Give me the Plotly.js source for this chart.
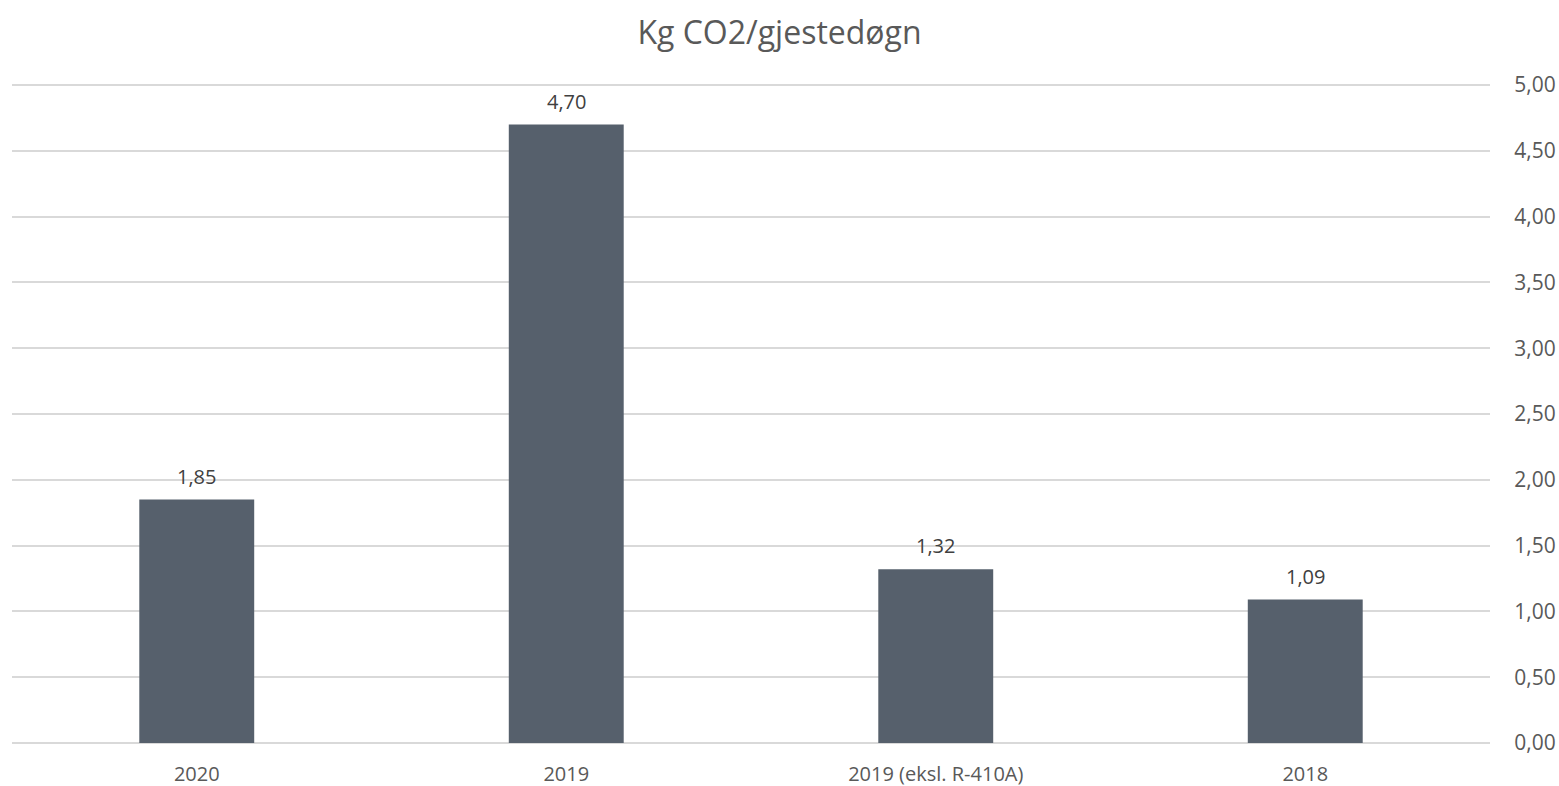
<!DOCTYPE html>
<html>
<head>
<meta charset="utf-8">
<script src="https://cdn.plot.ly/plotly-3.0.1.min.js"></script>
<style>html,body{margin:0;padding:0;background:#fff;}#chart{width:1559px;height:786px;}</style>
</head>
<body>
<div id="chart"></div>
<script>
const categories = ["2020", "2019", "2019 (eksl. R-410A)", "2018"];
const values = [1.85, 4.70, 1.32, 1.09];
const tickValues = [0, 0.5, 1, 1.5, 2, 2.5, 3, 3.5, 4, 4.5, 5];
const tickLabels = ["0,00", "0,50", "1,00", "1,50", "2,00", "2,50", "3,00", "3,50", "4,00", "4,50", "5,00"];
const valueLabels = values.map(v => v.toFixed(2).replace(".", ","));

const font = "Open Sans, sans-serif";
const trace = {
  type: "bar",
  x: categories,
  y: values,
  marker: {color: "#56606C"},
  hoverinfo: "skip"
};
const annotations = categories.map((c, i) => ({
  x: i, y: values[i], xref: "x", yref: "y",
  text: valueLabels[i], showarrow: false,
  yanchor: "bottom", yshift: 8,
  font: {family: font, size: 20, color: "#404040"}
}));
const layout = {
  width: 1559, height: 786,
  margin: {l: 12, r: 69, t: 84, b: 43},
  paper_bgcolor: "#fff", plot_bgcolor: "#fff",
  bargap: 0.689,
  showlegend: false,
  annotations: annotations,
  title: {text: "Kg CO2/gjestedøgn", font: {family: font, size: 32, color: "#595959"}, x: 0.5, xanchor: "center", y: 0.958, yanchor: "middle"},
  xaxis: {type: "category", categoryarray: categories, range: [-0.5, 3.5],
          showgrid: false, zeroline: false, showline: false,
          ticks: "outside", ticklen: 13, tickcolor: "rgba(0,0,0,0)",
          tickfont: {family: font, size: 20, color: "#595959"}},
  yaxis: {side: "right", range: [0, 5.008], tickvals: tickValues, ticktext: tickLabels,
          showgrid: true, gridcolor: "#D9D9D9", gridwidth: 2,
          zeroline: true, zerolinecolor: "#D9D9D9", zerolinewidth: 2, showline: false,
          ticks: "outside", ticklen: 19, tickcolor: "rgba(0,0,0,0)",
          tickfont: {family: font, size: 21, color: "#595959"}}
};
Plotly.newPlot("chart", [trace], layout, {displayModeBar: false, staticPlot: true});
</script>
</body>
</html>
